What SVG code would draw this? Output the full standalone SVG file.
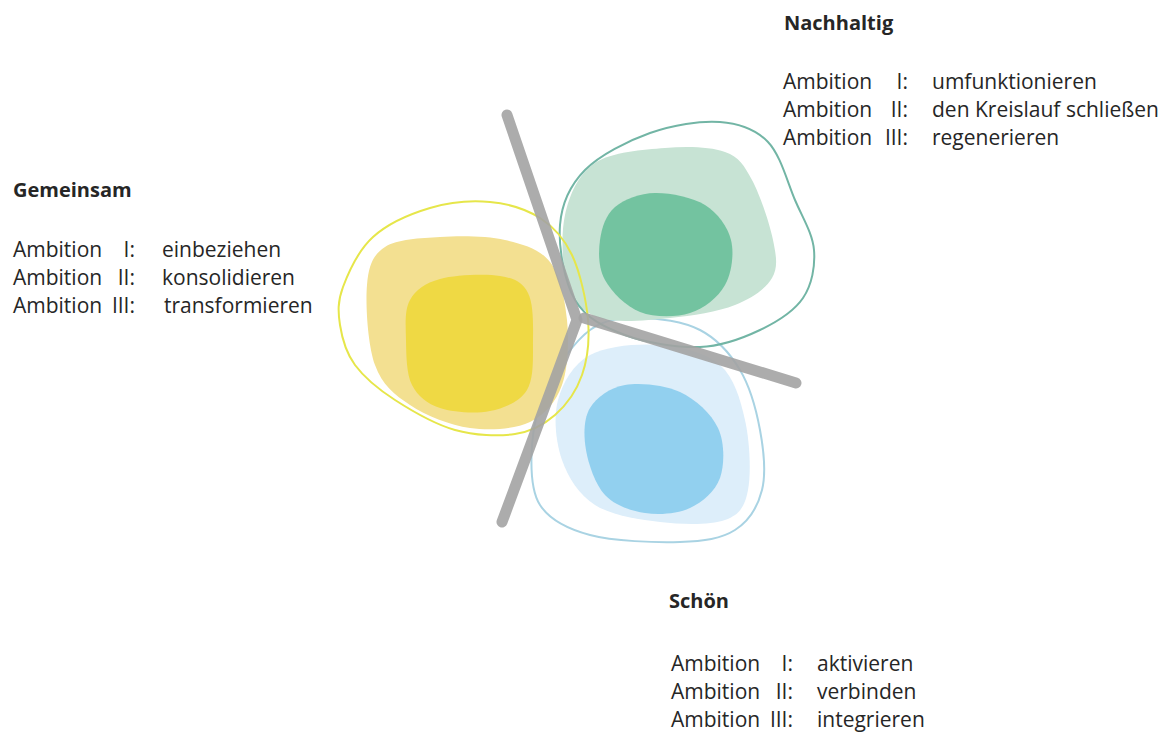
<svg xmlns="http://www.w3.org/2000/svg" width="1175" height="736" viewBox="0 0 1175 736">
<style>
text{font-family:"Open Sans","Liberation Sans",sans-serif;fill:#262626;font-size:21px}
.h{font-weight:bold;font-size:20px}
.outline{fill:none;stroke-width:2}
.divider{fill:none;stroke:#a3a3a3;stroke-width:11;stroke-linecap:round;stroke-linejoin:round;opacity:0.9}
</style>
<rect width="1175" height="736" fill="#ffffff"/>
<g id="node-schoen">
<path d="M558,400 C562.7,382.5 573,364.2 590,355 S638.3,343.3 660,345 S705.8,352.5 720,365 S740.3,399.2 745,420 S751.3,473.3 748,490 S739.7,514.7 725,520 S681.7,524.5 660,522 S611.3,515.3 595,505 S568.2,477.5 562,460 S553.3,417.5 558,400 Z" fill="#ddeefa"/>
<path d="M590,408 C596.5,397.2 610,387.7 625,385 S664.5,384.8 680,392 S711.3,413.7 718,428 S724.7,464.7 720,478 S702.5,502.2 690,508 S659.2,515.2 645,513 S614.8,505.5 605,495 S588.5,464.5 586,450 S583.5,418.8 590,408 Z" fill="#92d0ef"/>
<path class="outline" stroke="#a9d3e3" d="M548,385 C557.7,365.8 574.7,341.2 590,330 S621.7,318 640,318 S683.3,321.3 700,330 S730,353.3 740,370 S756.3,410 760,430 S766.2,473.3 762,490 S748.7,521.3 735,530 S704.2,541.2 680,542 S613.3,541.2 590,535 S549.7,520 540,505 S530.7,465 532,445 S538.3,404.2 548,385 Z"/>
</g>
<g id="node-nachhaltig">
<path d="M565,215 C569.5,194.7 578.3,174.2 595,163 S643.3,149.8 665,148 S710.5,146.7 725,152 S744,165.3 752,180 S769.7,223.7 773,240 S778.3,267.2 772,278 S752,298.3 735,305 S692.5,315.8 670,318 S617,323.5 600,318 S573.8,302.2 568,285 S560.5,235.3 565,215 Z" fill="#c7e3d4"/>
<path d="M600,240 C601.7,227.8 605.8,214.8 615,207 S640,193.3 655,193 S692.3,197.2 705,205 S727.7,226.7 731,240 S731.8,272.8 725,285 S704.2,308.5 690,313 S654.2,317.5 640,312 S611.7,292 605,280 S598.3,252.2 600,240 Z" fill="#73c3a0"/>
<path class="outline" stroke="#72b5a5" d="M560,225 C561.7,203.3 570,185.3 585,170 S627.5,141 650,133 S700.3,120.5 720,122 S755.5,129 768,142 S787.3,182 795,200 S812.7,233.7 814,250 S812,284.7 803,298 S777.2,321.8 760,330 S722.5,346.2 700,347 S645.8,342.8 625,335 S585.8,318.3 575,300 S558.3,246.7 560,225 Z"/>
</g>
<g id="node-gemeinsam">
<path d="M367,285 C368.7,265.3 372.8,255 385,247 S420,238.2 440,237 S486.7,235.8 505,240 S539.7,248.7 550,262 S565,299.5 567,320 S568.2,368 562,385 S545.3,414.8 530,422 S490,430.8 470,428 S425.8,415.5 410,405 S382.2,385 375,365 S365.3,304.7 367,285 Z" fill="#f3e091"/>
<path d="M410,300 C415.7,289.8 425,283 440,279 S485.3,273.7 500,276 S522.5,282.3 528,293 S533.2,323.8 533,340 S534.2,378.2 527,390 S504.5,408 490,411 S453,412.3 440,408 S417.7,396.3 412,385 S406.3,354.2 406,340 S404.3,310.2 410,300 Z" fill="#efd944"/>
<path class="outline" stroke="#e6e64a" d="M343,287 C348.5,272.3 358.5,250.2 373,237 S410.5,213.8 430,208 S471.7,200.3 490,202 S526.3,209.2 540,218 S564,238 572,255 S586.3,300 588,320 S587.5,359.2 582,375 S566.2,405.2 555,415 S531.7,431.5 515,434 S475,435.7 455,430 S411.7,410.8 395,400 S364.2,377.5 355,365 S342,338 340,325 S337.5,301.7 343,287 Z"/>
</g>
<g id="connectors">
<path class="divider" d="M507,115 L577,320 L502,522"/>
<path class="divider" d="M584,318 L796,383"/>
</g>
<g id="label-gemeinsam">
<text class="h" x="13" y="197">Gemeinsam</text>
<text x="13" y="257">Ambition</text><text x="135" y="257" text-anchor="end">I:</text><text x="162" y="257">einbeziehen</text>
<text x="13" y="285">Ambition</text><text x="135" y="285" text-anchor="end">II:</text><text x="162" y="285">konsolidieren</text>
<text x="13" y="313">Ambition</text><text x="135" y="313" text-anchor="end">III:</text><text x="164" y="313">transformieren</text>
</g>
<g id="label-nachhaltig">
<text class="h" x="784" y="30">Nachhaltig</text>
<text x="783" y="89">Ambition</text><text x="908" y="89" text-anchor="end">I:</text><text x="932" y="89">umfunktionieren</text>
<text x="783" y="117">Ambition</text><text x="908" y="117" text-anchor="end">II:</text><text x="932" y="117">den Kreislauf schließen</text>
<text x="783" y="145">Ambition</text><text x="908" y="145" text-anchor="end">III:</text><text x="932" y="145">regenerieren</text>
</g>
<g id="label-schoen">
<text class="h" x="669" y="608">Schön</text>
<text x="671" y="671">Ambition</text><text x="793" y="671" text-anchor="end">I:</text><text x="817" y="671">aktivieren</text>
<text x="671" y="699">Ambition</text><text x="793" y="699" text-anchor="end">II:</text><text x="817" y="699">verbinden</text>
<text x="671" y="727">Ambition</text><text x="793" y="727" text-anchor="end">III:</text><text x="817" y="727">integrieren</text>
</g>
</svg>
